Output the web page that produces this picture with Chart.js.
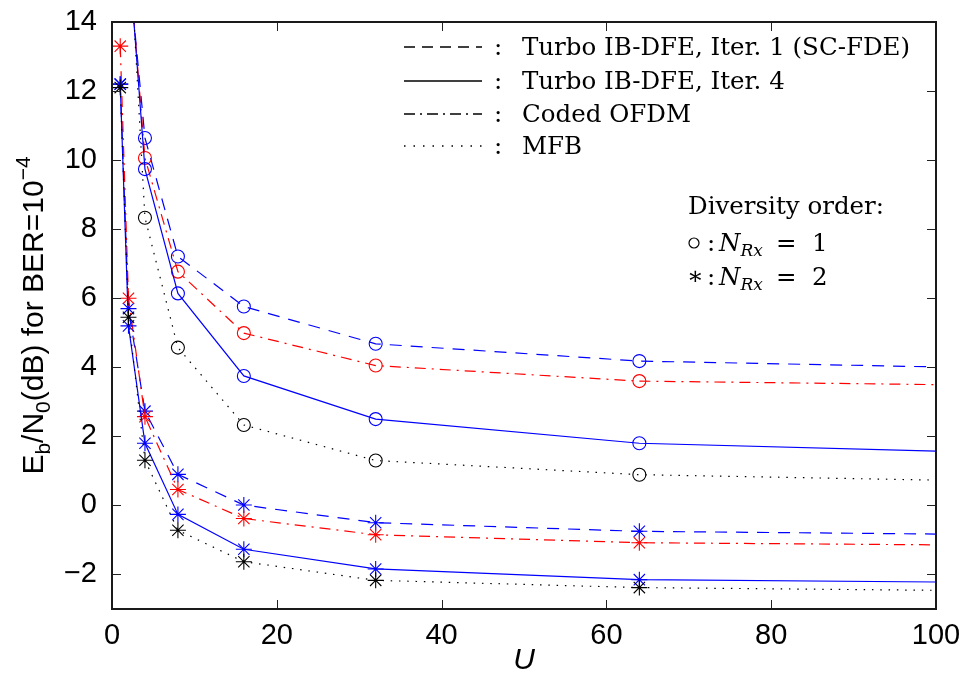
<!DOCTYPE html>
<html>
<head>
<meta charset="utf-8">
<script src="https://cdn.jsdelivr.net/npm/chart.js@4.4.1/dist/chart.umd.min.js"></script>
<style>
  html, body { margin: 0; padding: 0; background: #fff; }
  #wrap { width: 963px; height: 673px; position: relative; }
</style>
</head>
<body>
<div id="wrap"><canvas id="chart"></canvas></div>
<script>
// number of users U (the last value lies past the axis limit, only the line towards it shows)
const uValues = [1, 2, 4, 8, 16, 32, 64, 128];

// N_Rx = 1 (circles)
const turboIter1Rx1 = [24.0, 15.7, 10.64, 7.21, 5.76, 4.68, 4.18, 3.88];
const turboIter4Rx1 = [22.0, 16.1, 9.74, 6.14, 3.75, 2.50, 1.80, 1.39];
const ofdmRx1 = [25.0, 16.0, 10.06, 6.77, 4.99, 4.05, 3.60, 3.42];
const mfbRx1 = [20.0, 16.9, 8.33, 4.57, 2.33, 1.30, 0.89, 0.61];

// N_Rx = 2 (asterisks)
const turboIter1Rx2 = [12.2, 5.7, 2.73, 0.90, 0.01, -0.50, -0.75, -0.89];
const turboIter4Rx2 = [12.2, 5.2, 1.80, -0.26, -1.27, -1.84, -2.15, -2.27];
const ofdmRx2 = [13.3, 6.0, 2.57, 0.46, -0.38, -0.85, -1.08, -1.19];
const mfbRx2 = [12.1, 5.45, 1.31, -0.72, -1.63, -2.17, -2.38, -2.52];

const xTicks = [0, 20, 40, 60, 80, 100];
const yTicks = [-2, 0, 2, 4, 6, 8, 10, 12, 14];

const legendLabels = ['Turbo IB-DFE, Iter. 1 (SC-FDE)', 'Turbo IB-DFE, Iter. 4', 'Coded OFDM', 'MFB'];

// line styles
const DASHED = [12, 9];
const SOLID = [];
const DASHDOT = [11, 6, 2, 6];
const DOTTED = [1.5, 6.8];
const BLUE = '#0000ff';
const RED = '#ff0000';
const BLACK = '#000000';

function series(values, color, dash, marker) {
  return {
    data: uValues.map((u, i) => ({ x: u, y: values[i] })),
    borderColor: color,
    borderWidth: 1.2,
    borderDash: dash,
    pointStyle: marker,
    pointRadius: marker === 'star' ? 8 : 6.5,
    pointBorderColor: color,
    pointBackgroundColor: 'rgba(0,0,0,0)',
    pointBorderWidth: 1.1,
    tension: 0,
    fill: false
  };
}

const datasets = [
  series(mfbRx1, BLACK, DOTTED, 'circle'),
  series(turboIter4Rx1, BLUE, SOLID, 'circle'),
  series(ofdmRx1, RED, DASHDOT, 'circle'),
  series(turboIter1Rx1, BLUE, DASHED, 'circle'),
  series(mfbRx2, BLACK, DOTTED, 'star'),
  series(turboIter4Rx2, BLUE, SOLID, 'star'),
  series(ofdmRx2, RED, DASHDOT, 'star'),
  series(turboIter1Rx2, BLUE, DASHED, 'star')
];

/**
 * Frame with inward ticks plus the text annotations (MATLAB look)
 */
const decorations = {
  id: 'decorations',
  afterDraw(chart) {
    const ctx = chart.ctx;
    const { left, right, top, bottom } = chart.chartArea;
    const xs = chart.scales.x;
    const ys = chart.scales.y;
    const tickLen = 9;

    ctx.save();
    ctx.strokeStyle = '#222';
    ctx.lineWidth = 1;
    ctx.setLineDash([]);
    ctx.beginPath();
    xTicks.forEach(v => {
      const px = Math.round(xs.getPixelForValue(v)) + 0.5;
      ctx.moveTo(px, bottom); ctx.lineTo(px, bottom - tickLen);
      ctx.moveTo(px, top); ctx.lineTo(px, top + tickLen);
    });
    yTicks.forEach(v => {
      const py = Math.round(ys.getPixelForValue(v)) + 0.5;
      ctx.moveTo(left, py); ctx.lineTo(left + tickLen, py);
      ctx.moveTo(right, py); ctx.lineTo(right - tickLen, py);
    });
    ctx.stroke();

    ctx.lineWidth = 2;
    ctx.strokeStyle = '#1a1a1a';
    ctx.strokeRect(left, top, right - left, bottom - top);

    // y axis title: E_b/N_0(dB) for BER=10^-4
    ctx.fillStyle = '#000';
    ctx.textBaseline = 'alphabetic';
    ctx.textAlign = 'left';
    const big = '30px "Liberation Sans", Arial, sans-serif';
    const small = '21px "Liberation Sans", Arial, sans-serif';
    const parts = [
      { t: 'E', f: big, dy: 0 },
      { t: 'b', f: small, dy: 7 },
      { t: '/N', f: big, dy: 0 },
      { t: '0', f: small, dy: 7 },
      { t: '(dB) for BER=10', f: big, dy: 0 },
      { t: '\u22124', f: small, dy: -13 }
    ];
    let total = 0;
    parts.forEach(p => { ctx.font = p.f; p.w = ctx.measureText(p.t).width; total += p.w; });
    ctx.save();
    ctx.translate(43, (top + bottom) / 2);
    ctx.rotate(-Math.PI / 2);
    let cx = -total / 2;
    parts.forEach(p => { ctx.font = p.f; ctx.fillText(p.t, cx, p.dy); cx += p.w; });
    ctx.restore();

    // x axis title
    ctx.font = 'italic 30px "Liberation Sans", Arial, sans-serif';
    ctx.textAlign = 'center';
    ctx.fillText('U', (left + right) / 2, 669);

    // line style legend
    const rowY = [47, 81, 114, 146];
    const serif = '24.5px "DejaVu Serif", serif';
    ctx.textAlign = 'left';
    legendLabels.forEach((label, i) => {
      ctx.strokeStyle = '#000';
      ctx.lineWidth = 1.4;
      ctx.setLineDash(i === 0 ? [11, 7] : i === 2 ? [11, 5, 2, 5] : i === 3 ? [1.5, 8] : []);
      ctx.beginPath();
      ctx.moveTo(404, rowY[i]);
      ctx.lineTo(482, rowY[i]);
      ctx.stroke();
      ctx.setLineDash([]);
      ctx.font = serif;
      ctx.fillText(':', 494, rowY[i] + 8);
      ctx.fillText(label, 522, rowY[i] + 8);
    });

    // diversity order note
    ctx.font = serif;
    ctx.fillText('Diversity order:', 688, 214);
    const noteRows = [{ y: 251, n: '1' }, { y: 285, n: '2' }];
    noteRows.forEach((r, i) => {
      if (i === 0) {
        ctx.lineWidth = 1.2;
        ctx.beginPath();
        ctx.arc(694, r.y - 8, 5, 0, Math.PI * 2);
        ctx.stroke();
      } else {
        ctx.font = serif;
        ctx.fillText('\u2217', 687, r.y - 1);
      }
      ctx.font = serif;
      ctx.fillText(':', 707, r.y);
      ctx.font = 'italic 24.5px "DejaVu Serif", serif';
      ctx.fillText('N', 719, r.y);
      const nw = ctx.measureText('N').width;
      ctx.font = 'italic 17px "DejaVu Serif", serif';
      ctx.fillText('Rx', 719 + nw, r.y + 5);
      ctx.font = serif;
      ctx.fillText('=', 776, r.y);
      ctx.fillText(r.n, 812, r.y);
    });
    ctx.restore();
  }
};

new Chart(document.getElementById('chart'), {
  type: 'line',
  data: { datasets },
  options: {
    responsive: true,
    maintainAspectRatio: false,
    animation: false,
    layout: { padding: { top: 22, right: 27, left: 0, bottom: 0 } },
    plugins: {
      legend: { display: false },
      tooltip: { enabled: false }
    },
    scales: {
      x: {
        type: 'linear',
        min: 0,
        max: 100,
        grid: { display: false, drawTicks: false, tickLength: 0 },
        border: { display: false },
        afterBuildTicks: s => { s.ticks = xTicks.map(v => ({ value: v })); },
        afterFit: s => { s.height = 64; s.paddingLeft = 0; s.paddingRight = 0; },
        ticks: {
          padding: 10,
          maxRotation: 0,
          color: '#000',
          font: { family: '"Liberation Sans", Arial, sans-serif', size: 29 }
        }
      },
      y: {
        type: 'linear',
        min: -3,
        max: 14,
        grid: { display: false, drawTicks: false, tickLength: 0 },
        border: { display: false },
        afterBuildTicks: s => { s.ticks = yTicks.map(v => ({ value: v })); },
        afterFit: s => { s.width = 112; s.paddingTop = 0; s.paddingBottom = 0; },
        ticks: {
          padding: 15,
          color: '#000',
          font: { family: '"Liberation Sans", Arial, sans-serif', size: 29 },
          callback: v => (v < 0 ? '\u2212' + Math.abs(v) : String(v))
        }
      }
    }
  },
  plugins: [decorations]
});
</script>
</body>
</html>
